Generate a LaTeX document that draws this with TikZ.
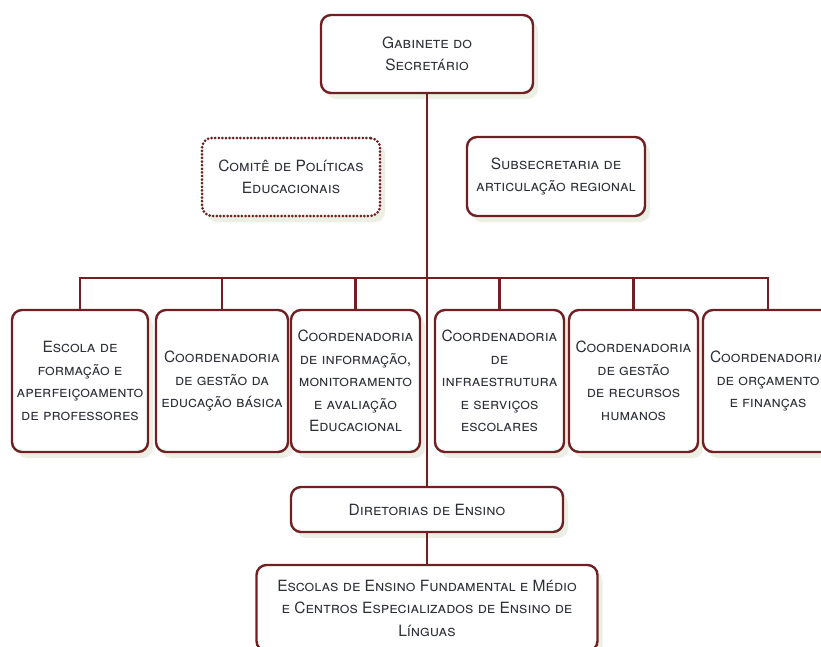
\documentclass[tikz,border=0pt]{standalone}
\usepackage{fontspec}
\setmainfont{TeX Gyre Heros}
\usetikzlibrary{shadows}
\definecolor{wine}{RGB}{112,32,34}
\definecolor{ink}{RGB}{45,48,56}
\definecolor{haze}{RGB}{224,231,210}
\begin{document}
\begin{tikzpicture}[x=1pt, y=-1pt,
  every node/.style={font=\fontsize{15.5}{22.5}\selectfont\scshape, text=ink, align=center, inner sep=0pt},
  unit/.style={draw=wine, line width=2.4pt, rounded corners=10pt, fill=white,
    drop shadow={shadow xshift=5pt, shadow yshift=-6pt, fill=haze, opacity=0.6}},
  advisory/.style={unit, line width=3pt, dash pattern=on 0pt off 3.6pt, line cap=round},
  link/.style={draw=wine, line width=2.2pt},
]
\fill[white] (0,0) rectangle (821,646);
\useasboundingbox (0,0) rectangle (821,646);

% top of the chart
\node[unit, minimum width=212pt, minimum height=78pt] (gab) at (427,54) {Gabinete do\\Secretário};
\node[advisory, minimum width=178pt, minimum height=78pt] (comite) at (291,177) {Comitê de Políticas\\Educacionais};
\node[unit, minimum width=178pt, minimum height=79pt] (subsec) at (556,176.5) {Subsecretaria de\\articulação regional};

% coordenadorias
\node[unit, minimum width=136pt, minimum height=142pt] (escola) at (80,381) {Escola de\\formação e\\aperfeiçoamento\\de professores};
\node[unit, minimum width=132pt, minimum height=142pt] (basica) at (222,381) {Coordenadoria\\de gestão da\\educação básica};
\node[unit, minimum width=129pt, minimum height=142pt] (info) at (355.5,381) {Coordenadoria\\de informação,\\monitoramento\\e avaliação\\Educacional};
\node[unit, minimum width=129pt, minimum height=142pt] (infra) at (499.5,381) {Coordenadoria\\de\\infraestrutura\\e serviços\\escolares};
\node[unit, minimum width=129pt, minimum height=142pt] (rh) at (633.5,381) {Coordenadoria\\de gestão\\de recursos\\humanos};
\node[unit, minimum width=130pt, minimum height=142pt] (orc) at (768,381) {Coordenadoria\\de orçamento\\e finanças};

% ensino
\node[unit, minimum width=272pt, minimum height=45pt] (dir) at (427,509.5) {Diretorias de Ensino};
\node[unit, minimum width=341pt, minimum height=86pt] (esc) at (427,608) {Escolas de Ensino Fundamental e Médio\\e Centros Especializados de Ensino de\\Línguas};

\coordinate (bar) at (427,278);
\draw[link] (gab.south) -- (dir.north);
\draw[link] (dir.south) -- (esc.north);
\foreach \unitname in {escola, basica, info, infra, rh, orc}
  \draw[link] (\unitname.north) |- (bar);

\end{tikzpicture}
\end{document}
